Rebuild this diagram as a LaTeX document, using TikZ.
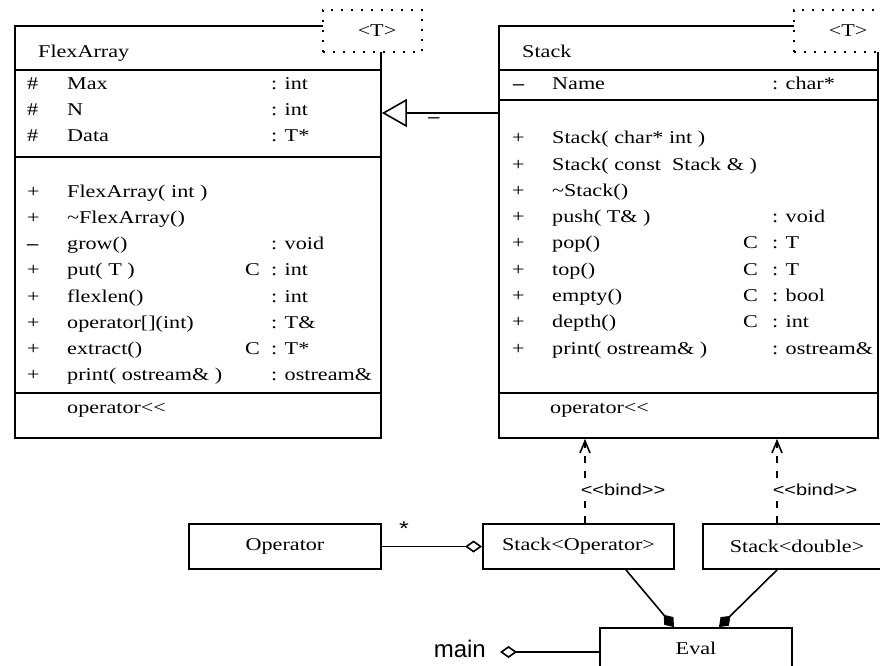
\documentclass[tikz,border=0pt]{standalone}
\usepackage{fontspec}
\setmainfont{Liberation Serif}[Ligatures=TeXOff, FakeStretch=1.23]
\setsansfont{Liberation Sans}[Ligatures=TeXOff, FakeStretch=1.25]
\newfontfamily\mainfnt{Liberation Sans}[Ligatures=TeXOff]
\usetikzlibrary{arrows.meta}

\begin{document}
\begin{tikzpicture}[x=1pt, y=-1pt, font=\fontsize{18}{22}\selectfont,
  classbox/.style={draw, line width=1.9pt, anchor=north west, inner sep=0pt},
  sep/.style={line width=1.9pt},
  tmpl/.style={draw, fill=white, line width=2pt, dash pattern=on 2pt off 8pt, minimum width=99pt, minimum height=42pt, inner sep=0pt},
  cell/.style={anchor=base west, inner sep=0pt},
  objbox/.style={draw, line width=1.9pt, minimum height=45pt, inner sep=0pt},
  inherit/.style={line width=1.6pt, -{Triangle[open, length=25pt, width=28pt]}},
  aggr/.style={line width=1.6pt, {Diamond[open, length=17pt, width=12pt]}-},
  compo/.style={line width=1.6pt, -{Diamond[length=16pt, width=12pt]}},
  bind/.style={line width=1.6pt, dash pattern=on 7pt off 8pt, -{Straight Barb[length=12pt, width=10pt]}},
  bindlbl/.style={font=\sffamily\fontsize{16}{18}\selectfont, fill=white, inner sep=1pt, anchor=west}]
\useasboundingbox (0,0) rectangle (880,666);
\clip (0,0) rectangle (880,666);

\node[classbox, minimum width=366pt, minimum height=412pt] (flex) at (14,25) {};
\draw [sep] (14,70) -- (380,70);
\draw [sep] (14,157) -- (380,157);
\draw [sep] (14,393) -- (380,393);
\node[tmpl] (flexT) at (372.5,31) {\hspace{9pt}<T>};
\node[cell] (flexN) at (38,58) {FlexArray};
\node[cell] (fa-v1) at (27,90) {\#};
\node[cell] (fa-a1) at (67,90) {Max};
\node[cell] (fa-t1) at (271,90) {: int};
\node[cell] (fa-v2) at (27,116) {\#};
\node[cell] (fa-a2) at (67,116) {N};
\node[cell] (fa-t2) at (271,116) {: int};
\node[cell] (fa-v3) at (27,142) {\#};
\node[cell] (fa-a3) at (67,142) {Data};
\node[cell] (fa-t3) at (271,142) {: T*};
\node[cell] (fa-p1) at (27,197) {+};
\node[cell] (fa-m1) at (67,197) {FlexArray( int )};
\node[cell] (fa-p2) at (27,223) {+};
\node[cell] (fa-m2) at (67,223) {\textasciitilde FlexArray()};
\node[cell] (fa-p3) at (27,249.5) {\bfseries –};
\node[cell] (fa-m3) at (67,249.5) {grow()};
\node[cell] (fa-r3) at (271,249.5) {: void};
\node[cell] (fa-p4) at (27,275.5) {+};
\node[cell] (fa-m4) at (67,275.5) {put( T )};
\node[cell] (fa-c4) at (245,275.5) {C};
\node[cell] (fa-r4) at (271,275.5) {: int};
\node[cell] (fa-p5) at (27,302) {+};
\node[cell] (fa-m5) at (67,302) {flexlen()};
\node[cell] (fa-r5) at (271,302) {: int};
\node[cell] (fa-p6) at (27,328) {+};
\node[cell] (fa-m6) at (67,328) {operator[](int)};
\node[cell] (fa-r6) at (271,328) {: T\&};
\node[cell] (fa-p7) at (27,354) {+};
\node[cell] (fa-m7) at (67,354) {extract()};
\node[cell] (fa-c7) at (245,354) {C};
\node[cell] (fa-r7) at (271,354) {: T*};
\node[cell] (fa-p8) at (27,380.5) {+};
\node[cell] (fa-m8) at (67,380.5) {print( ostream\& )};
\node[cell] (fa-r8) at (271,380.5) {: ostream\&};
\node[cell] (fa-op) at (67,413) {operator<<};

\node[classbox, minimum width=379pt, minimum height=412pt] (stack) at (498,25) {};
\draw [sep] (498,70) -- (877,70);
\draw [sep] (498,100) -- (877,100);
\draw [sep] (498,393) -- (877,393);
\node[tmpl] (stackT) at (843.5,31) {\hspace{9pt}<T>};
\node[cell] (stackN) at (522,58) {Stack};
\node[cell] (st-v1) at (513,90) {\bfseries –};
\node[cell] (st-a1) at (552,90) {Name};
\node[cell] (st-t1) at (772,90) {: char*};
\node[cell] (st-p1) at (512,143.5) {+};
\node[cell] (st-m1) at (552,143.5) {Stack( char* int )};
\node[cell] (st-p2) at (512,170) {+};
\node[cell] (st-m2) at (552,170) {Stack( const\ \ Stack \& )};
\node[cell] (st-p3) at (512,196) {+};
\node[cell] (st-m3) at (552,196) {\textasciitilde Stack()};
\node[cell] (st-p4) at (512,222.5) {+};
\node[cell] (st-m4) at (552,222.5) {push( T\& )};
\node[cell] (st-r4) at (772,222.5) {: void};
\node[cell] (st-p5) at (512,248.5) {+};
\node[cell] (st-m5) at (552,248.5) {pop()};
\node[cell] (st-c5) at (743,248.5) {C};
\node[cell] (st-r5) at (772,248.5) {: T};
\node[cell] (st-p6) at (512,275) {+};
\node[cell] (st-m6) at (552,275) {top()};
\node[cell] (st-c6) at (743,275) {C};
\node[cell] (st-r6) at (772,275) {: T};
\node[cell] (st-p7) at (512,301) {+};
\node[cell] (st-m7) at (552,301) {empty()};
\node[cell] (st-c7) at (743,301) {C};
\node[cell] (st-r7) at (772,301) {: bool};
\node[cell] (st-p8) at (512,327.5) {+};
\node[cell] (st-m8) at (552,327.5) {depth()};
\node[cell] (st-c8) at (743,327.5) {C};
\node[cell] (st-r8) at (772,327.5) {: int};
\node[cell] (st-p9) at (512,354) {+};
\node[cell] (st-m9) at (552,354) {print( ostream\& )};
\node[cell] (st-r9) at (772,354) {: ostream\&};
\node[cell] (st-op) at (550,413) {operator<<};

\coordinate (inh) at (498,113);
\draw [inherit] (inh) -- (inh -| flex.east);
\node (inhL) at (434,120) {\bfseries –};

\node[objbox, minimum width=192pt] (oper) at (285,546.5) {Operator};
\node[objbox, minimum width=191pt] (sop) at (578.5,546.5) {Stack<Operator>};
\node[objbox, minimum width=188pt] (sdb) at (797,546.5) {Stack<double>};
\node[objbox, minimum width=192pt, minimum height=40pt] (eval) at (696,648) {Eval};

\draw [aggr] (sop.west) -- (oper.east);
\node[font=\sffamily\fontsize{20}{22}\selectfont] (mult) at (404,529) {*};

\coordinate (bA) at ([xshift=6.5pt]sop.north);
\coordinate (bB) at ([xshift=-20pt]sdb.north);
\draw [bind] (bA) -- (bA |- stack.south) node[bindlbl, pos=0.39, xshift=-6pt] (bindA) {<<bind>>};
\draw [bind] (bB) -- (bB |- stack.south) node[bindlbl, pos=0.39, xshift=-6pt] (bindB) {<<bind>>};

\draw [compo] ([xshift=47.5pt]sop.south) -- ([xshift=-22pt]eval.north);
\draw [compo] ([xshift=-20pt]sdb.south) -- ([xshift=23pt]eval.north);

\node[font=\mainfnt\fontsize{24}{26}\selectfont, anchor=base east, inner sep=0pt] (mainL) at (486,657) {main};
\coordinate (mainC) at (500,652);
\draw [aggr] (mainC) -- (mainC -| eval.west);
\end{tikzpicture}
\end{document}
